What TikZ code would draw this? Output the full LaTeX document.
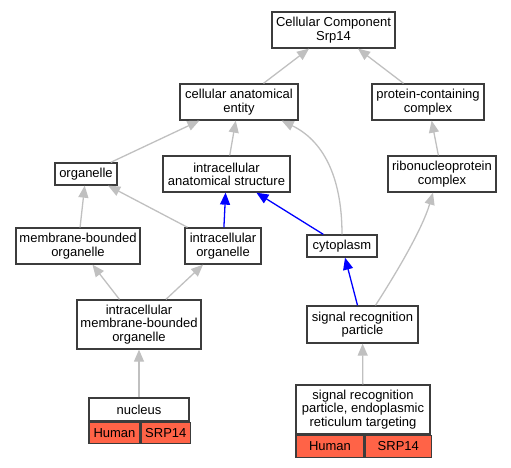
\documentclass[tikz,border=0pt]{standalone}
\usepackage{fontspec}
\setmainfont{Liberation Sans}
\usetikzlibrary{arrows.meta}
\definecolor{genefill}{RGB}{255,99,71}
\definecolor{isagray}{RGB}{192,192,192}
\definecolor{boxline}{RGB}{60,60,60}
\tikzstyle{term} = [draw=boxline, fill=white, line width=1.3pt,
    rectangle, align=center, inner sep=0pt, font=\fontsize{13}{13.3}\selectfont]
\tikzstyle{gene} = [term, fill=genefill, minimum height=21, anchor=north west]
\tikzstyle{isa} = [draw=isagray, line width=1.3pt, -{Triangle[length=12pt,width=10pt]}]
\tikzstyle{partof} = [isa, draw=blue]
\begin{document}
\begin{tikzpicture}[x=1pt, y=-1pt]
    \useasboundingbox (0,0) rectangle (511,467);
    % terms
    \node [term, minimum width=123, minimum height=36] (cc) at (333.5,30) {Cellular Component\\Srp14};
    \node [term, minimum width=118, minimum height=36] (cae) at (239,102) {cellular anatomical\\entity};
    \node [term, minimum width=112, minimum height=36] (pcc) at (428,102) {protein-containing\\complex};
    \node [term, minimum width=62, minimum height=22] (org) at (86,174) {organelle};
    \node [term, minimum width=127, minimum height=36] (ias) at (226.5,174) {intracellular\\anatomical structure};
    \node [term, minimum width=108, minimum height=36] (rnp) at (442,174) {ribonucleoprotein\\complex};
    \node [term, minimum width=124, minimum height=36] (mbo) at (78,246) {membrane-bounded\\organelle};
    \node [term, minimum width=76, minimum height=36] (io) at (223,246) {intracellular\\organelle};
    \node [term, minimum width=70, minimum height=22] (cyto) at (342,246) {cytoplasm};
    \node [term, minimum width=111, minimum height=37] (srp) at (362.5,324.5) {signal recognition\\particle};
    \node [term, minimum width=124, minimum height=49] (imbo) at (139,324.5) {intracellular\\membrane-bounded\\organelle};
    % annotated terms
    \node [term, minimum width=100, minimum height=23] (nuc) at (139,409.5) {nucleus};
    \node [gene, minimum width=51] (nucH) at (nuc.south west) {Human};
    \node [gene, minimum width=49] (nucS) at (nucH.north east) {SRP14};
    \node [term, minimum width=134, minimum height=49] (srper) at (363,409.5) {signal recognition\\particle, endoplasmic\\reticulum targeting};
    \node [gene, minimum width=68, minimum height=22] (srperH) at (srper.south west) {Human};
    \node [gene, minimum width=66, minimum height=22] (srperS) at (srperH.north east) {SRP14};
    % edges
    \draw [isa] (cae) -- (cc);
    \draw [isa] (pcc) -- (cc);
    \draw [isa] (org) -- (cae);
    \draw [isa] (ias) -- (cae);
    \draw [isa] (cyto.north) .. controls (342,175) and (322,140) .. ([xshift=-17pt]cae.south east);
    \draw [isa] (rnp) -- (pcc);
    \draw [isa] (mbo) -- (org);
    \draw [isa] (io) -- (org);
    \draw [partof] (io) -- (ias);
    \draw [partof] (cyto) -- (ias);
    \draw [isa] (imbo) -- (mbo);
    \draw [isa] (imbo) -- (io);
    \draw [partof] (srp) -- (cyto);
    \draw [isa] ([xshift=13pt]srp.north) .. controls (395,275) and (422,230) .. ([xshift=-9pt]rnp.south);
    \draw [isa] (nuc) -- (imbo);
    \draw [isa] (srper) -- (srp);
\end{tikzpicture}
\end{document}
